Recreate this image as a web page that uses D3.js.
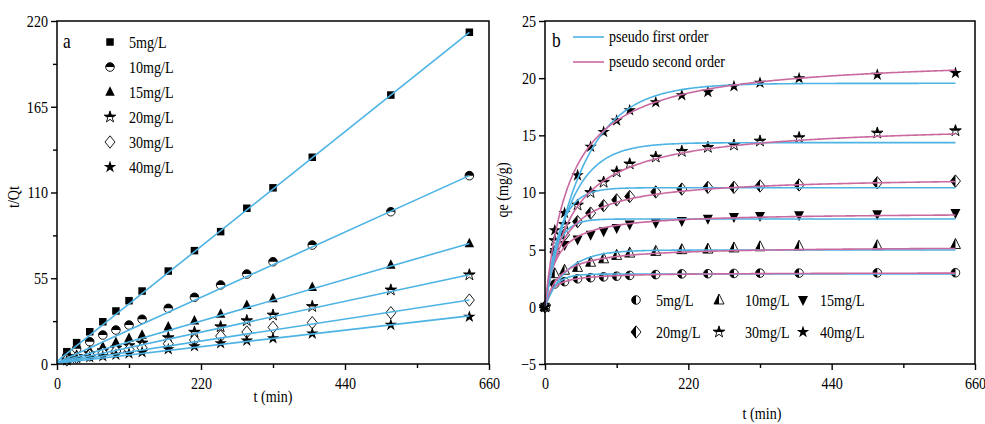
<!DOCTYPE html>
<html>
<head>
<meta charset="utf-8">
<script src="https://cdn.jsdelivr.net/npm/d3@7"></script>
<style>
  body { margin: 0; background: #fff; }
  svg { display: block; }
</style>
</head>
<body>
<div id="chart"></div>
<script>
// sampling times (min)
const times = [15, 30, 50, 70, 90, 110, 130, 170, 210, 250, 290, 330, 390, 510, 630];
const timesB = [0, 15, 30, 50, 70, 90, 110, 130, 170, 210, 250, 290, 330, 390, 510, 630];
const concentrations = ["5mg/L", "10mg/L", "15mg/L", "20mg/L", "30mg/L", "40mg/L"];

// panel a : t/Qt
const tq5  = [7.9, 13.7, 20.7, 27.1, 34.0, 40.6, 46.8, 59.6, 72.7, 84.9, 99.9, 113.0, 132.6, 172.5, 212.8];
const tq10 = [5.2, 9.8, 14.3, 18.6, 21.8, 25.0, 28.7, 35.7, 42.8, 50.7, 57.7, 65.6, 76.3, 97.7, 120.8];
const tq15 = [3.1, 5.6, 8.5, 11.1, 14.0, 16.5, 18.6, 23.9, 27.8, 32.1, 37.7, 42.1, 49.2, 63.5, 77.4];
const tq20 = [3.1, 4.8, 6.7, 8.5, 10.2, 11.8, 13.5, 16.9, 20.4, 23.9, 27.8, 31.4, 36.9, 47.5, 57.2];
const tq30 = [2.6, 4.2, 5.6, 7.0, 8.3, 9.3, 10.4, 13.0, 15.4, 17.9, 20.5, 23.5, 26.5, 32.9, 41.0];
const tq40 = [2.2, 3.7, 4.3, 5.0, 5.9, 6.7, 7.6, 9.5, 11.4, 13.3, 15.0, 16.5, 19.5, 25.1, 30.3];
// linear fits of panel a
const lineSlope     = [0.3350, 0.1905, 0.1215, 0.0898, 0.0642, 0.0482];
const lineIntercept = [1.7, 0.8, 0.8, 0.7, 0.6, 0.5];

// panel b : qe (mg/g)
const qe5  = [0, 2.0, 2.2, 2.45, 2.55, 2.62, 2.68, 2.75, 2.82, 2.88, 2.9, 2.92, 2.95, 2.95, 2.97, 2.98];
const qe10 = [0, 2.9, 3.2, 3.45, 3.9, 4.2, 4.5, 4.7, 4.85, 5.0, 5.05, 5.15, 5.25, 5.3, 5.35, 5.45];
const qe15 = [0, 4.8, 5.4, 5.9, 6.3, 6.6, 6.9, 7.2, 7.35, 7.5, 7.7, 7.85, 7.95, 8.0, 8.1, 8.2];
const qe20 = [0, 4.8, 6.3, 7.45, 8.2, 8.85, 9.35, 9.65, 10.05, 10.3, 10.45, 10.45, 10.57, 10.66, 10.85, 11.0];
const qe30 = [0, 5.8, 7.2, 8.9, 10.0, 10.9, 11.8, 12.5, 13.1, 13.6, 13.95, 14.15, 14.5, 14.8, 15.2, 15.4];
const qe40 = [0, 6.7, 8.2, 11.5, 14.0, 15.3, 16.3, 17.2, 17.9, 18.5, 18.8, 19.3, 19.6, 20.0, 20.3, 20.45];
// kinetic model parameters
const pfoQe = [2.87, 4.97, 7.68, 10.42, 14.36, 19.55];
const pfoK  = [0.065, 0.03, 0.06, 0.045, 0.025, 0.017];
const psoQe = [3.0, 5.29, 8.25, 11.43, 16.12, 21.96];
const psoK  = [0.0306, 0.00848, 0.0070, 0.00319, 0.001488, 0.001186];

const ticksA = [0, 55, 110, 165, 220];
const minorA = [27.5, 82.5, 137.5, 192.5];
const ticksB = [-5, 0, 5, 10, 15, 20, 25];
const ticksT = [0, 220, 440, 660];
const minorT = [110, 330, 550];

const seriesA = [tq5, tq10, tq15, tq20, tq30, tq40];
const seriesB = [qe5, qe10, qe15, qe20, qe30, qe40];

const W = 985, H = 424;
const SX = 0.83; // narrow serif look
const FS = 17;
const FONT = "'Liberation Serif', 'Times New Roman', serif";
const BLUE = "#4db3e4";
const PINK = "#c969a0";

const svg = d3.select("#chart").append("svg")
    .attr("width", W)
    .attr("height", H)
    .style("font-family", FONT);

const defs = svg.append("defs");
defs.append("clipPath").attr("id", "clipTop")
    .append("rect").attr("x", -20).attr("y", -20).attr("width", 40).attr("height", 20);
defs.append("clipPath").attr("id", "clipLeft")
    .append("rect").attr("x", -20).attr("y", -20).attr("width", 20).attr("height", 40);

const shapes = {
    square: s => d3.symbol(d3.symbolSquare, s * s)(),
    circle: r => d3.symbol(d3.symbolCircle, Math.PI * r * r)(),
    star: a => d3.symbol(d3.symbolStar, a)(),
    triUp: w => `M0,${-w * 0.6}L${w / 2},${w * 0.4}L${-w / 2},${w * 0.4}Z`,
    triDown: w => `M0,${w * 0.6}L${w / 2},${-w * 0.4}L${-w / 2},${-w * 0.4}Z`,
    diamond: w => `M0,${-w * 0.62}L${w / 2},0L0,${w * 0.62}L${-w / 2},0Z`
};

const markersA = [
    { shape: "square", size: 7.5, fill: "solid" },
    { shape: "circle", size: 4.3, fill: "top" },
    { shape: "triUp", size: 9.5, fill: "solid" },
    { shape: "star", size: 42, fill: "top" },
    { shape: "diamond", size: 10, fill: "open" },
    { shape: "star", size: 48, fill: "solid" }
];
const markersB = [
    { shape: "circle", size: 4.3, fill: "left" },
    { shape: "triUp", size: 10, fill: "left" },
    { shape: "triDown", size: 10, fill: "solid" },
    { shape: "diamond", size: 10, fill: "left" },
    { shape: "star", size: 42, fill: "top" },
    { shape: "star", size: 48, fill: "solid" }
];

function marker(g, kind) {
    const d = shapes[kind.shape](kind.size);
    if (kind.fill === "solid") {
        g.append("path").attr("d", d).attr("fill", "#000");
        return;
    }
    g.append("path").attr("d", d)
        .attr("fill", "#fff").attr("stroke", "#000").attr("stroke-width", 0.9);
    if (kind.fill !== "open") {
        g.append("path").attr("d", d).attr("fill", "#000")
            .attr("clip-path", `url(#${kind.fill === "top" ? "clipTop" : "clipLeft"})`);
    }
}

function label(parent, x, y, str, size, opts = {}) {
    const rot = opts.rotate ? " rotate(-90)" : "";
    return parent.append("text")
        .attr("transform", `translate(${x},${y})${rot} scale(${SX},1)`)
        .attr("text-anchor", opts.anchor || "start")
        .attr("font-size", size)
        .attr("fill", "#000")
        .text(str);
}

function axes(g, x, y, yTicks, yMinor, yFmt) {
    const [x0, x1] = x.range();
    const [y0, y1] = y.range();

    const xa = g.append("g").attr("transform", `translate(0,${y0})`)
        .call(d3.axisBottom(x).tickValues(ticksT).tickSize(6).tickPadding(7).tickSizeOuter(0));
    g.append("g").attr("transform", `translate(0,${y0})`)
        .call(d3.axisBottom(x).tickValues(minorT).tickSize(4).tickFormat("").tickSizeOuter(0));
    const ya = g.append("g").attr("transform", `translate(${x0},0)`)
        .call(d3.axisLeft(y).tickValues(yTicks).tickSize(6).tickPadding(3).tickFormat(yFmt).tickSizeOuter(0));
    if (yMinor.length) {
        g.append("g").attr("transform", `translate(${x0},0)`)
            .call(d3.axisLeft(y).tickValues(yMinor).tickSize(4).tickFormat("").tickSizeOuter(0));
    }
    g.selectAll(".domain").remove();
    g.selectAll(".tick line").attr("stroke", "#000").attr("stroke-width", 1.4);
    g.selectAll(".tick text")
        .attr("font-family", FONT)
        .attr("font-size", FS)
        .attr("fill", "#000");
    xa.selectAll(".tick text").attr("transform", `scale(${SX},1)`);
    ya.selectAll(".tick text").attr("x", -9 / SX).attr("transform", `scale(${SX},1)`);

    g.append("rect")
        .attr("x", x0).attr("y", y1)
        .attr("width", x1 - x0).attr("height", y0 - y1)
        .attr("fill", "none").attr("stroke", "#000").attr("stroke-width", 1.5);
}

// ---------- panel a ----------
const xA = d3.scaleLinear().domain([0, 660]).range([57, 489]);
const yA = d3.scaleLinear().domain([0, 220]).range([364, 21]);
const gA = svg.append("g");

const lineA = d3.line().x(d => xA(d[0])).y(d => yA(d[1]));
const ptsA = gA.append("g");
seriesA.forEach((s, i) => {
    s.forEach((v, j) => {
        const m = ptsA.append("g").attr("transform", `translate(${xA(times[j])},${yA(v)})`);
        marker(m, markersA[i]);
    });
});
seriesA.forEach((s, i) => {
    const tEnd = times[times.length - 1];
    gA.append("path")
        .attr("d", lineA([[0, lineIntercept[i]], [tEnd, lineIntercept[i] + lineSlope[i] * tEnd]]))
        .attr("fill", "none").attr("stroke", BLUE).attr("stroke-width", 1.6);
});
axes(gA, xA, yA, ticksA, minorA, d3.format("d"));

label(gA, 63, 48, "a", 21);
concentrations.forEach((c, i) => {
    const yy = 42 + i * 25;
    const m = gA.append("g").attr("transform", `translate(110,${yy})`);
    marker(m, markersA[i]);
    label(gA, 129, yy + 6, c, FS);
});
label(gA, 273, 402, "t (min)", FS, { anchor: "middle" });
label(gA, 19, 197, "t/Qt", FS, { anchor: "middle", rotate: true });

// ---------- panel b ----------
const xB = d3.scaleLinear().domain([0, 660]).range([545, 975]);
const yB = d3.scaleLinear().domain([-5, 25]).range([364, 21]);
const gB = svg.append("g");

const ptsB = gB.append("g");
seriesB.forEach((s, i) => {
    s.forEach((v, j) => {
        const m = ptsB.append("g").attr("transform", `translate(${xB(timesB[j])},${yB(v)})`);
        marker(m, markersB[i]);
    });
});

const tGrid = d3.range(0, 630.5, 2.5);
const curve = d3.line().x(d => xB(d[0])).y(d => yB(d[1]));
concentrations.forEach((c, i) => {
    const pfo = tGrid.map(t => [t, pfoQe[i] * (1 - Math.exp(-pfoK[i] * t))]);
    const pso = tGrid.map(t => [t, psoK[i] * psoQe[i] * psoQe[i] * t / (1 + psoK[i] * psoQe[i] * t)]);
    gB.append("path").attr("d", curve(pfo))
        .attr("fill", "none").attr("stroke", BLUE).attr("stroke-width", 1.6);
    gB.append("path").attr("d", curve(pso))
        .attr("fill", "none").attr("stroke", PINK).attr("stroke-width", 1.6);
});
axes(gB, xB, yB, ticksB, [], d3.format("d"));

label(gB, 552, 47, "b", 21);
[["pseudo first order", BLUE, 37], ["pseudo second order", PINK, 62]].forEach(([t, col, yy]) => {
    gB.append("line").attr("x1", 573).attr("x2", 604).attr("y1", yy).attr("y2", yy)
        .attr("stroke", col).attr("stroke-width", 1.6);
    label(gB, 609, yy + 5, t, FS);
});

const legPos = [[636, 656], [719, 745], [803, 820]];
concentrations.forEach((c, i) => {
    const row = Math.floor(i / 3), col = i % 3;
    const yy = 300 + row * 32;
    const m = gB.append("g").attr("transform", `translate(${legPos[col][0]},${yy})`);
    marker(m, markersB[i]);
    label(gB, legPos[col][1], yy + 6, c, FS);
});
label(gB, 762, 419, "t (min)", FS, { anchor: "middle" });
label(gB, 508, 190, "qe (mg/g)", FS, { anchor: "middle", rotate: true });
</script>
</body>
</html>
